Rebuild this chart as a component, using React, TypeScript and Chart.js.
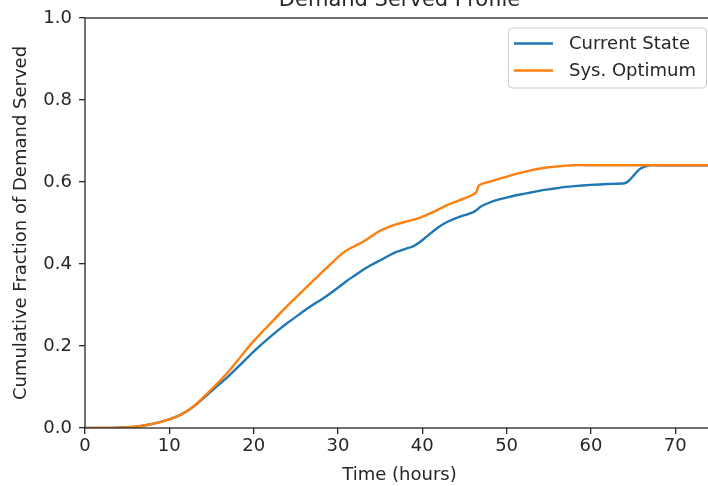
import React, { useEffect, useRef } from "react";
import { Chart, registerables } from "chart.js";

Chart.register(...registerables);

const TITLE = "Demand Served Profile";
const X_LABEL = "Time (hours)";
const Y_LABEL = "Cumulative Fraction of Demand Served";
const SERIES_NAMES = ["Current State", "Sys. Optimum"];
const SERIES_COLORS = ["#1f77b4", "#ff7f0e"];

const hours = [
  0, 2, 4, 6, 7, 8, 9, 10, 11, 12, 13, 14, 15, 16, 17, 18, 19, 20, 21, 22, 23,
  24, 25, 26, 27, 28, 29, 30, 31, 32, 33, 34, 35, 36, 37, 38, 39, 40, 41, 42,
  43, 44, 45, 46, 46.4, 46.7, 47, 48, 49, 50, 51, 52, 53, 54, 55, 56, 57, 58,
  60, 62, 64, 64.5, 65, 65.5, 66, 66.5, 67, 68, 70, 72, 75,
];

const currentState = [
  0, 0, 0.001, 0.003, 0.006, 0.01, 0.015, 0.021, 0.029, 0.04, 0.054, 0.072,
  0.09, 0.108, 0.126, 0.146, 0.166, 0.186, 0.205, 0.223, 0.24, 0.256, 0.271,
  0.286, 0.3, 0.313, 0.327, 0.342, 0.358, 0.372, 0.386, 0.398, 0.409, 0.42,
  0.43, 0.437, 0.444, 0.458, 0.475, 0.491, 0.503, 0.512, 0.519, 0.526, 0.531,
  0.536, 0.541, 0.55, 0.557, 0.562, 0.567, 0.571, 0.575, 0.579, 0.582, 0.585,
  0.588, 0.59, 0.593, 0.595, 0.597, 0.603, 0.614, 0.626, 0.634, 0.638, 0.641,
  0.641, 0.641, 0.641, 0.641,
];

const sysOptimum = [
  0, 0, 0.001, 0.003, 0.006, 0.01, 0.015, 0.021, 0.029, 0.04, 0.055, 0.074,
  0.094, 0.115, 0.137, 0.162, 0.188, 0.212, 0.234, 0.255, 0.277, 0.298, 0.318,
  0.338, 0.358, 0.378, 0.397, 0.417, 0.433, 0.444, 0.455, 0.468, 0.481, 0.49,
  0.497, 0.503, 0.508, 0.515, 0.524, 0.534, 0.544, 0.552, 0.56, 0.569, 0.575,
  0.591, 0.595, 0.601, 0.607, 0.613, 0.619, 0.624, 0.629, 0.633, 0.636, 0.638,
  0.64, 0.641, 0.641, 0.641, 0.641, 0.641, 0.641, 0.641, 0.641, 0.641, 0.641,
  0.641, 0.641, 0.641, 0.641,
];

const xTicks = [0, 10, 20, 30, 40, 50, 60, 70];
const yTicks = [0, 0.2, 0.4, 0.6, 0.8, 1.0];
const X_MIN = 0;
const X_MAX = 74.6;
const Y_MIN = 0;
const Y_MAX = 1;

const FONT = "'DejaVu Sans', sans-serif";
const TEXT_COLOR = "#262626";
const AXIS_COLOR = "#262626";

const decorPlugin = {
  id: "decor",
  afterDraw(chart: any) {
    const { ctx, chartArea } = chart;
    const { left, right, top, bottom } = chartArea;
    ctx.save();
    // frame (spines)
    ctx.strokeStyle = AXIS_COLOR;
    ctx.lineWidth = 1.3;
    ctx.strokeRect(left, top, right - left, bottom - top);

    // title (partially cut off at top)
    ctx.fillStyle = TEXT_COLOR;
    ctx.font = `21px ${FONT}`;
    ctx.textAlign = "center";
    ctx.textBaseline = "alphabetic";
    ctx.fillText(TITLE, (left + right) / 2, top - 12);

    // legend
    const lw = 198;
    const lh = 60;
    const lx = right - 8 - lw;
    const ly = top + 9.5;
    ctx.beginPath();
    if ((ctx as any).roundRect) {
      (ctx as any).roundRect(lx + 0.5, ly + 0.5, lw, lh, 4);
    } else {
      ctx.rect(lx + 0.5, ly + 0.5, lw, lh);
    }
    ctx.fillStyle = "rgba(255,255,255,0.8)";
    ctx.fill();
    ctx.strokeStyle = "#cccccc";
    ctx.lineWidth = 1;
    ctx.stroke();

    ctx.font = `18px ${FONT}`;
    ctx.textAlign = "left";
    ctx.textBaseline = "middle";
    SERIES_NAMES.forEach((name, i) => {
      const cy = ly + 16 + i * 27;
      ctx.strokeStyle = SERIES_COLORS[i];
      ctx.lineWidth = 2.4;
      ctx.beginPath();
      ctx.moveTo(lx + 6, cy);
      ctx.lineTo(lx + 45, cy);
      ctx.stroke();
      ctx.fillStyle = TEXT_COLOR;
      ctx.fillText(name, lx + 61, cy + 1);
    });
    ctx.restore();
  },
};

export default function App() {
  const canvasRef = useRef<HTMLCanvasElement | null>(null);

  useEffect(() => {
    const canvas = canvasRef.current;
    if (!canvas) return;
    const chart = new Chart(canvas, {
      type: "line",
      data: {
        datasets: [
          {
            label: SERIES_NAMES[0],
            data: hours.map((h, i) => ({ x: h, y: currentState[i] })),
            borderColor: SERIES_COLORS[0],
            backgroundColor: SERIES_COLORS[0],
            borderWidth: 2.4,
            pointRadius: 0,
            tension: 0.2,
            fill: false,
            order: 1,
          },
          {
            label: SERIES_NAMES[1],
            data: hours.map((h, i) => ({ x: h, y: sysOptimum[i] })),
            borderColor: SERIES_COLORS[1],
            backgroundColor: SERIES_COLORS[1],
            borderWidth: 2.4,
            pointRadius: 0,
            tension: 0.2,
            fill: false,
            order: 0,
          },
        ],
      },
      options: {
        animation: false,
        responsive: false,
        maintainAspectRatio: false,
        devicePixelRatio: 1,
        layout: { padding: { top: 18, right: 2, bottom: 0, left: 0 } },
        plugins: {
          legend: { display: false },
          title: { display: false },
          tooltip: { enabled: false },
        },
        scales: {
          x: {
            type: "linear",
            min: X_MIN,
            max: X_MAX,
            afterBuildTicks: (scale: any) => {
              scale.ticks = xTicks.map((v) => ({ value: v }));
            },
            afterFit: (scale: any) => {
              scale.height = 58;
            },
            border: { display: false },
            grid: {
              drawOnChartArea: false,
              drawTicks: true,
              tickLength: 6,
              tickColor: AXIS_COLOR,
              lineWidth: 1.3,
            },
            ticks: {
              color: TEXT_COLOR,
              font: { family: FONT, size: 18 },
              padding: 2,
              maxRotation: 0,
              autoSkip: false,
              callback: (v: any) => String(v),
            },
            title: {
              display: true,
              text: X_LABEL,
              color: TEXT_COLOR,
              font: { family: FONT, size: 18 },
              padding: { top: 0, bottom: 0 },
            },
          },
          y: {
            type: "linear",
            min: Y_MIN,
            max: Y_MAX,
            afterBuildTicks: (scale: any) => {
              scale.ticks = yTicks.map((v) => ({ value: v }));
            },
            afterFit: (scale: any) => {
              scale.width = 85;
            },
            border: { display: false },
            grid: {
              drawOnChartArea: false,
              drawTicks: true,
              tickLength: 6,
              tickColor: AXIS_COLOR,
              lineWidth: 1.3,
            },
            ticks: {
              color: TEXT_COLOR,
              font: { family: FONT, size: 18 },
              padding: 7,
              autoSkip: false,
              callback: (v: any) => Number(v).toFixed(1),
            },
            title: {
              display: true,
              text: Y_LABEL,
              color: TEXT_COLOR,
              font: { family: FONT, size: 18 },
              padding: { top: 11, bottom: 0 },
            },
          },
        },
      },
      plugins: [decorPlugin],
    });
    return () => chart.destroy();
  }, []);

  return (
    <div
      style={{
        position: "fixed",
        left: 0,
        top: 0,
        width: 708,
        height: 486,
        overflow: "hidden",
        background: "#fff",
      }}
    >
      <canvas
        ref={canvasRef}
        width={716}
        height={486}
        style={{ position: "absolute", left: 0, top: 0, width: 716, height: 486 }}
      />
    </div>
  );
}
